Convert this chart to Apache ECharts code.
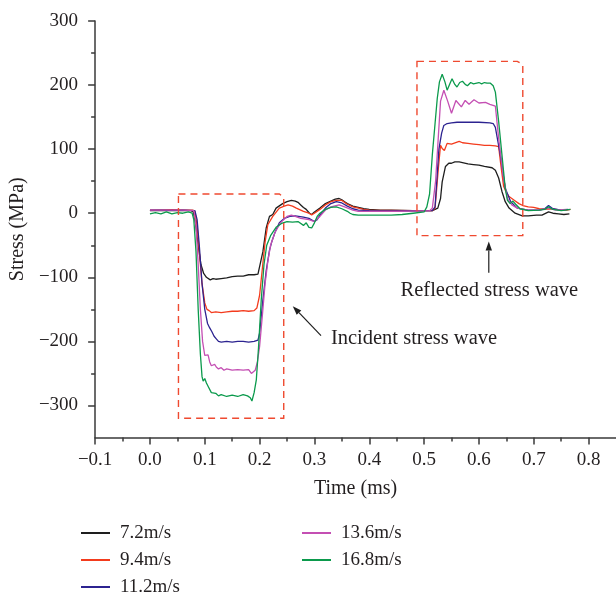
<!DOCTYPE html>
<html>
<head>
<meta charset="utf-8">
<script src="https://cdn.jsdelivr.net/npm/echarts@6/dist/echarts.min.js"></script>
<style>
  html, body { margin: 0; padding: 0; background: #ffffff; }
  #chart { width: 616px; height: 594px; }
</style>
</head>
<body>
<div id="chart"></div>
<script>
// Stress histories recorded on the bar for five striker velocities: [time (ms), stress (MPa)]
const stress72 = [
  [0,4],[0.02,4.5],[0.04,4],[0.06,4.5],[0.075,4],[0.079,2],[0.083,-15],[0.088,-50],[0.093,-80],[0.098,-94],
  [0.103,-100],[0.106,-99],[0.11,-104],[0.115,-102],[0.12,-103],[0.13,-102],[0.14,-101],[0.15,-99],[0.16,-98],
  [0.17,-98],[0.18,-96],[0.19,-96],[0.197,-95],[0.2,-92],[0.206,-60],[0.212,-23],[0.218,-5],[0.224,-2],[0.23,8],
  [0.242,15],[0.25,18],[0.258,20],[0.265,19],[0.27,17],[0.275,13],[0.28,9],[0.285,6],[0.291,0],[0.295,-2],
  [0.3,2],[0.31,8],[0.32,15],[0.33,19],[0.338,22],[0.345,23],[0.35,21],[0.355,18],[0.36,15],[0.37,11],
  [0.38,9],[0.39,7],[0.4,6],[0.42,5],[0.44,5],[0.46,4.5],[0.48,4],[0.5,4],[0.515,4],[0.525,8],[0.53,23],
  [0.533,49],[0.539,73],[0.545,78],[0.55,78],[0.556,80],[0.564,80],[0.57,79],[0.58,77],[0.59,76],[0.6,75],
  [0.61,73],[0.624,71],[0.63,67],[0.636,55],[0.642,34],[0.648,18],[0.655,8],[0.666,0],[0.679,-4],[0.69,-4],
  [0.705,-3],[0.715,-3],[0.727,2],[0.735,0],[0.745,-1],[0.755,-2],[0.765,-1]
];
const stress94 = [
  [0,5],[0.02,5],[0.04,5.5],[0.06,5],[0.078,5],[0.082,3],[0.086,-20],[0.09,-60],[0.095,-110],[0.1,-140],
  [0.104,-150],[0.108,-152],[0.112,-155],[0.12,-154],[0.13,-155],[0.14,-154],[0.15,-153],[0.16,-153],
  [0.17,-152],[0.18,-153],[0.19,-152],[0.195,-148],[0.2,-128],[0.206,-78],[0.21,-45],[0.215,-18],[0.224,-5],
  [0.236,8],[0.245,11],[0.252,13],[0.26,11],[0.267,8],[0.28,3],[0.29,0],[0.295,-2.5],[0.3,0],[0.31,6],
  [0.32,13],[0.33,18],[0.34,20],[0.35,20],[0.36,14],[0.37,10],[0.38,8],[0.39,6],[0.4,5],[0.44,4.5],
  [0.48,4],[0.515,4],[0.52,8],[0.526,70],[0.53,106],[0.533,101],[0.537,98],[0.542,109],[0.55,108],
  [0.564,112],[0.57,110],[0.58,109],[0.59,108],[0.6,107],[0.61,106],[0.62,106],[0.63,105],[0.636,104],
  [0.64,75],[0.645,42],[0.65,32],[0.655,26],[0.665,20],[0.673,15],[0.68,12],[0.69,10],[0.7,9],[0.71,7],
  [0.72,6],[0.73,7],[0.74,6],[0.75,5],[0.76,5],[0.767,6]
];
const stress112 = [
  [0,5],[0.02,5],[0.04,4.5],[0.06,5],[0.082,4],[0.086,-10],[0.09,-50],[0.095,-110],[0.1,-150],[0.105,-172],
  [0.109,-179],[0.113,-185],[0.117,-192],[0.121,-196],[0.125,-200],[0.13,-201],[0.14,-200],[0.15,-201],
  [0.16,-200],[0.17,-200],[0.18,-201],[0.19,-200],[0.197,-198],[0.2,-187],[0.206,-135],[0.212,-90],
  [0.218,-58],[0.222,-45],[0.228,-30],[0.236,-15],[0.245,-8],[0.255,-5],[0.265,-4],[0.28,-6],[0.29,-8],
  [0.3,-13],[0.305,-10],[0.31,-3],[0.32,8],[0.33,15],[0.34,18],[0.35,16],[0.36,11],[0.37,7],[0.38,5],
  [0.4,4],[0.45,3.5],[0.515,4],[0.52,10],[0.527,100],[0.532,125],[0.536,137],[0.542,140],[0.55,141],
  [0.56,142],[0.58,142],[0.6,142],[0.62,141],[0.626,140],[0.63,134],[0.639,91],[0.648,39],[0.658,18],
  [0.67,8],[0.69,5],[0.71,5],[0.72,7],[0.727,12],[0.735,7],[0.75,5],[0.763,6]
];
const stress136 = [
  [0,5],[0.02,5],[0.04,5],[0.06,5],[0.08,4],[0.084,-20],[0.088,-80],[0.092,-150],[0.096,-200],[0.1,-222],
  [0.103,-225],[0.106,-221],[0.109,-232],[0.112,-238],[0.115,-241],[0.118,-236],[0.121,-240],[0.125,-243],
  [0.13,-241],[0.135,-245],[0.14,-243],[0.15,-245],[0.16,-244],[0.17,-245],[0.18,-244],[0.185,-250],
  [0.188,-253],[0.192,-245],[0.196,-232],[0.2,-208],[0.205,-160],[0.21,-110],[0.215,-75],[0.22,-50],
  [0.228,-30],[0.238,-15],[0.25,-5],[0.258,-3],[0.265,-5],[0.275,-8],[0.29,-10],[0.3,-13],[0.31,-5],
  [0.32,5],[0.33,10],[0.345,13],[0.355,10],[0.37,5],[0.38,3],[0.4,3],[0.45,3],[0.51,4],[0.515,8],
  [0.521,50],[0.526,120],[0.53,175],[0.536,192],[0.543,175],[0.55,156],[0.558,176],[0.568,166],
  [0.575,176],[0.582,170],[0.591,177],[0.6,172],[0.612,173],[0.62,170],[0.63,167],[0.636,117],[0.644,60],
  [0.652,23],[0.66,13],[0.67,8],[0.69,5],[0.71,5],[0.727,8],[0.74,5],[0.76,6]
];
const stress168 = [
  [0,-1],[0.01,1],[0.02,-1],[0.03,2],[0.04,-1],[0.05,1],[0.06,0],[0.07,2],[0.077,0],[0.08,-10],[0.084,-60],
  [0.088,-150],[0.092,-220],[0.095,-255],[0.097,-262],[0.1,-258],[0.103,-265],[0.106,-270],[0.109,-272],
  [0.112,-280],[0.115,-282],[0.12,-281],[0.125,-285],[0.13,-283],[0.14,-286],[0.15,-284],[0.16,-286],
  [0.17,-283],[0.178,-285],[0.183,-288],[0.186,-293],[0.19,-280],[0.194,-260],[0.198,-210],[0.203,-135],
  [0.208,-80],[0.213,-50],[0.22,-35],[0.23,-22],[0.24,-16],[0.25,-13],[0.26,-14],[0.27,-13],[0.28,-19],
  [0.285,-15],[0.29,-22],[0.295,-23],[0.3,-15],[0.305,-5],[0.31,0],[0.32,6],[0.33,9],[0.34,10],[0.35,7],
  [0.36,3],[0.365,0],[0.37,-2],[0.38,-3],[0.4,-3],[0.42,-3],[0.44,-3],[0.46,-2],[0.48,0],[0.5,2],
  [0.505,10],[0.51,30],[0.515,91],[0.52,140],[0.524,179],[0.528,205],[0.533,217],[0.538,205],[0.542,192],
  [0.547,202],[0.551,210],[0.556,201],[0.56,197],[0.565,204],[0.57,206],[0.575,201],[0.579,199],
  [0.585,204],[0.59,202],[0.6,204],[0.605,202],[0.61,204],[0.615,203],[0.621,203],[0.626,199],[0.63,189],
  [0.636,143],[0.642,91],[0.648,39],[0.652,20],[0.657,15],[0.662,19],[0.667,14],[0.675,7],[0.69,4],
  [0.71,5],[0.72,6],[0.727,10],[0.735,6],[0.75,4],[0.767,6]
];

const seriesNames = ['7.2m/s', '9.4m/s', '11.2m/s', '13.6m/s', '16.8m/s'];
const seriesData = [stress72, stress94, stress112, stress136, stress168];
const seriesColors = ['#1e1e1e', '#f33b1d', '#2c2390', '#c44fb3', '#0b9a4c'];

// Axis ticks
const xMajorTicks = [-0.1, 0, 0.1, 0.2, 0.3, 0.4, 0.5, 0.6, 0.7, 0.8];
const xMinorTicks = [-0.05, 0.05, 0.15, 0.25, 0.35, 0.45, 0.55, 0.65, 0.75];
const yMajorTicks = [-300, -200, -100, 0, 100, 200, 300];
const yMinorTicks = [-250, -150, -50, 50, 150, 250];

// Annotation geometry in data units
const incidentBox = [[0.052, 30], [0.236, 30], [0.244, 25], [0.244, -320], [0.052, -320]];
const reflectedBox = [[0.487, 237], [0.670, 237], [0.680, 232], [0.680, -35], [0.487, -35]];
const incidentArrow = [[0.312, -191], [0.2605, -145]];
const reflectedArrow = [[0.618, -93], [0.618, -44]];
const incidentText = { text: 'Incident stress wave', at: [0.330, -196], align: 'left' };
const reflectedText = { text: 'Reflected stress wave', at: [0.619, -121], align: 'center' };

const FONT = '"Liberation Serif", "Times New Roman", serif';
const INK = '#231f20';
const minusSign = s => s.replace('-', '\u2212');

const chart = echarts.init(document.getElementById('chart'), null, { renderer: 'canvas' });

const axisLineStyle = { color: '#3a3a3a', width: 1.5 };

// Legend: two columns, one component per entry so the rows sit on a fixed 27px pitch
const legendSlots = [[81, 523], [81, 550], [81, 577], [302, 523], [302, 550]];
const legends = seriesNames.map((name, i) => ({
  data: [name], orient: 'vertical', left: legendSlots[i][0], top: legendSlots[i][1], padding: 0,
  icon: 'rect', itemWidth: 29, itemHeight: 2, itemGap: 0, selectedMode: false,
  textStyle: { fontFamily: FONT, fontSize: 19, lineHeight: 20, color: INK, padding: [0, 0, 0, 5] }
}));

const option = {
  animation: false,
  backgroundColor: '#ffffff',
  grid: { left: 95, top: 21, width: 522.5, height: 416.5, containLabel: false },
  xAxis: [
    {
      type: 'value', min: -0.1, max: 0.85, interval: 0.1, position: 'bottom',
      name: 'Time (ms)', nameLocation: 'middle', nameGap: 41,
      nameTextStyle: { fontFamily: FONT, fontSize: 20, color: INK },
      axisLine: { show: true, onZero: false, lineStyle: axisLineStyle },
      axisTick: { show: true, length: 7, customValues: xMajorTicks, lineStyle: axisLineStyle },
      axisLabel: {
        customValues: xMajorTicks, margin: 13, fontFamily: FONT, fontSize: 19, color: INK,
        formatter: v => minusSign(v.toFixed(1))
      },
      splitLine: { show: false }
    },
    {
      type: 'value', min: -0.1, max: 0.85, position: 'bottom', offset: 0,
      axisLine: { show: false, onZero: false },
      axisTick: { show: true, length: 4, customValues: xMinorTicks, lineStyle: axisLineStyle },
      axisLabel: { show: false },
      splitLine: { show: false }
    }
  ],
  yAxis: [
    {
      type: 'value', min: -350, max: 300, position: 'left',
      name: 'Stress (MPa)', nameLocation: 'middle', nameGap: 67, nameRotate: 90,
      nameTextStyle: { fontFamily: FONT, fontSize: 20, color: INK },
      axisLine: { show: true, onZero: false, lineStyle: axisLineStyle },
      axisTick: { show: true, length: 7, customValues: yMajorTicks, lineStyle: axisLineStyle },
      axisLabel: {
        customValues: yMajorTicks, margin: 17, fontFamily: FONT, fontSize: 19, color: INK,
        formatter: v => minusSign(String(v))
      },
      splitLine: { show: false }
    },
    {
      type: 'value', min: -350, max: 300, position: 'left', offset: 0,
      axisLine: { show: false, onZero: false },
      axisTick: { show: true, length: 4, customValues: yMinorTicks, lineStyle: axisLineStyle },
      axisLabel: { show: false },
      splitLine: { show: false }
    }
  ],
  legend: legends,
  series: seriesNames.map((name, i) => ({
    name: name,
    type: 'line',
    xAxisIndex: 0,
    yAxisIndex: 0,
    data: seriesData[i],
    showSymbol: false,
    symbol: 'none',
    clip: true,
    color: seriesColors[i],
    lineStyle: { color: seriesColors[i], width: 1.3 },
    emphasis: { disabled: true }
  }))
};

chart.setOption(option);

// Annotations: dashed frames, arrows and captions placed through the axes
const toPx = p => chart.convertToPixel({ xAxisIndex: 0, yAxisIndex: 0 }, p);

function dashedFrame(points) {
  return {
    type: 'polygon', silent: true, z: 10,
    shape: { points: points.map(toPx) },
    style: { fill: 'none', stroke: '#ef4a30', lineWidth: 1.4, lineDash: [7, 5] }
  };
}

function arrow(pair) {
  const tail = toPx(pair[0]);
  const head = toPx(pair[1]);
  const dx = head[0] - tail[0], dy = head[1] - tail[1];
  const len = Math.hypot(dx, dy);
  const ux = dx / len, uy = dy / len;
  const headLen = 9, halfW = 3.2;
  const base = [head[0] - ux * headLen, head[1] - uy * headLen];
  return [
    {
      type: 'line', silent: true, z: 10,
      shape: { x1: tail[0], y1: tail[1], x2: base[0], y2: base[1] },
      style: { stroke: '#1e1e1e', lineWidth: 1.2 }
    },
    {
      type: 'polygon', silent: true, z: 10,
      shape: { points: [head, [base[0] - uy * halfW, base[1] + ux * halfW], [base[0] + uy * halfW, base[1] - ux * halfW]] },
      style: { fill: '#1e1e1e' }
    }
  ];
}

function caption(c) {
  const p = toPx(c.at);
  return {
    type: 'text', silent: true, z: 10, x: p[0], y: p[1],
    style: { text: c.text, fontFamily: FONT, fontSize: 20.5, fill: INK, align: c.align, verticalAlign: 'middle' }
  };
}

chart.setOption({
  graphic: [
    dashedFrame(incidentBox),
    dashedFrame(reflectedBox),
    ...arrow(incidentArrow),
    ...arrow(reflectedArrow),
    caption(incidentText),
    caption(reflectedText)
  ]
});
</script>
</body>
</html>
